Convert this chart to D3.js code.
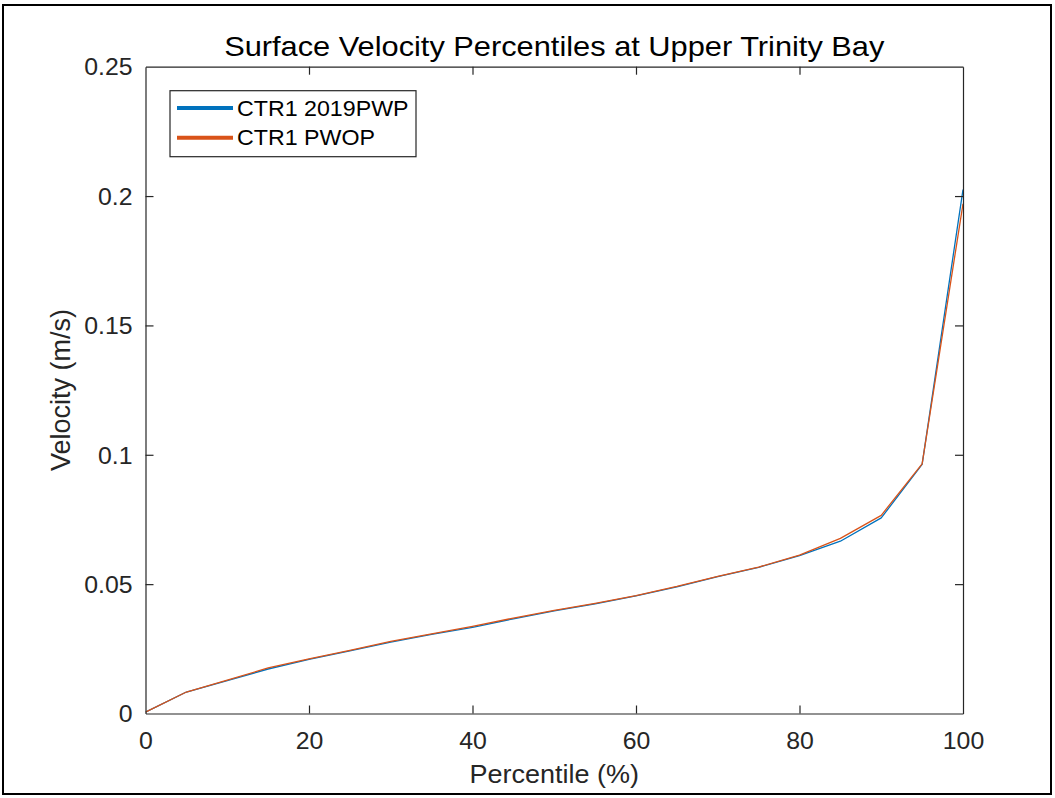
<!DOCTYPE html>
<html>
<head>
<meta charset="utf-8">
<script src="https://cdn.jsdelivr.net/npm/d3@7"></script>
<style>
  html, body { margin: 0; padding: 0; background: #fff; }
  svg { display: block; }
  text { font-family: "Liberation Sans", Arial, Helvetica, sans-serif; fill: #262626; }
</style>
</head>
<body>
<svg id="chart" width="1055" height="798"></svg>
<script>
// ---- data ----
const percentiles = [0, 5, 10, 15, 20, 25, 30, 35, 40, 45, 50, 55, 60, 65, 70, 75, 80, 85, 90, 95, 100];
const ctr1_2019PWP = [0.0005, 0.0083, 0.0127, 0.0172, 0.0209, 0.0242, 0.0276, 0.0306, 0.0333, 0.0366, 0.0397, 0.0424, 0.0455, 0.0489, 0.0529, 0.0565, 0.0610, 0.0666, 0.0756, 0.0963, 0.2025];
const ctr1_PWOP    = [0.0005, 0.0083, 0.0129, 0.0176, 0.0211, 0.0244, 0.0279, 0.0308, 0.0337, 0.0369, 0.0399, 0.0426, 0.0456, 0.0491, 0.0530, 0.0566, 0.0612, 0.0677, 0.0766, 0.0965, 0.1970];
const seriesNames = ["CTR1 2019PWP", "CTR1 PWOP"];
const seriesColors = ["#0072BD", "#D95319"];
const xTicks = [0, 20, 40, 60, 80, 100];
const yTicks = [0, 0.05, 0.1, 0.15, 0.2, 0.25];
const yTickLabels = ["0", "0.05", "0.1", "0.15", "0.2", "0.25"];
const titleText = "Surface Velocity Percentiles at Upper Trinity Bay";
const xLabelText = "Percentile (%)";
const yLabelText = "Velocity (m/s)";

(function draw() {
  const svg = d3.select("#chart");
  const pl = 145.5, pr = 963, pt = 66.7, pb = 713.5;
  const axisColor = "#262626";
  const tickLen = 8;
  const sx = 1.08; // the reference text is slightly wide

  svg.append("rect").attr("x", 3).attr("y", 5).attr("width", 1048).attr("height", 789)
    .attr("fill", "none").attr("stroke", "#000").attr("stroke-width", 2);

  const x = d3.scaleLinear().domain([0, 100]).range([pl, pr]);
  const y = d3.scaleLinear().domain([0, 0.25]).range([pb, pt]);

  svg.append("clipPath").attr("id", "clip").append("rect")
    .attr("x", pl).attr("y", pt).attr("width", pr - pl).attr("height", pb - pt);

  const line = d3.line().x(d => x(d[0])).y(d => y(d[1]));
  const allSeries = [ctr1_2019PWP, ctr1_PWOP];
  const g = svg.append("g").attr("clip-path", "url(#clip)");
  allSeries.forEach((vals, i) => {
    g.append("path")
      .datum(percentiles.map((p, j) => [p, vals[j]]))
      .attr("d", line)
      .attr("fill", "none")
      .attr("stroke", seriesColors[i])
      .attr("stroke-width", 1.3)
      .attr("stroke-linejoin", "round");
  });

  const bottomAxis = d3.axisBottom(x).tickValues(xTicks).tickSizeInner(-tickLen).tickSizeOuter(0).tickPadding(19);
  const topAxis = d3.axisTop(x).tickValues(xTicks).tickSizeInner(-tickLen).tickSizeOuter(0).tickFormat("");
  const leftAxis = d3.axisLeft(y).tickValues(yTicks).tickSizeInner(-tickLen).tickSizeOuter(0)
    .tickFormat((d, i) => yTickLabels[i]).tickPadding(12);
  const rightAxis = d3.axisRight(y).tickValues(yTicks).tickSizeInner(-tickLen).tickSizeOuter(0).tickFormat("");

  function styleAxis(sel) {
    sel.selectAll("path.domain").attr("stroke", axisColor).attr("stroke-width", 1.2);
    sel.selectAll(".tick line").attr("stroke", axisColor).attr("stroke-width", 1.2);
    sel.selectAll(".tick text").attr("fill", axisColor)
      .style("font-family", '"Liberation Sans", Arial, Helvetica, sans-serif').style("font-size", "23px")
      .attr("transform", `scale(${sx},1)`);
  }

  const gb = svg.append("g").attr("transform", `translate(0,${pb})`).call(bottomAxis).call(styleAxis);
  gb.selectAll(".tick text").attr("dy", "0.71em");
  gb.selectAll(".tick line").filter(d => d === 0 || d === 100).remove();
  const gt = svg.append("g").attr("transform", `translate(0,${pt})`).call(topAxis).call(styleAxis);
  gt.selectAll(".tick line").filter(d => d === 0 || d === 100).remove();
  const gl = svg.append("g").attr("transform", `translate(${pl},0)`).call(leftAxis).call(styleAxis);
  gl.selectAll(".tick line").filter(d => d === 0 || d === 0.25).remove();
  gl.selectAll(".tick text").attr("dy", "0.36em");
  const gr = svg.append("g").attr("transform", `translate(${pr},0)`).call(rightAxis).call(styleAxis);
  gr.selectAll(".tick line").filter(d => d === 0 || d === 0.25).remove();

  svg.append("text").attr("transform", `translate(${(pl + pr) / 2},56) scale(${sx},1)`).attr("text-anchor", "middle")
    .style("font-size", "28.5px").style("fill", "#000").text(titleText);
  svg.append("text").attr("transform", `translate(${(pl + pr) / 2},783) scale(${sx},1)`).attr("text-anchor", "middle")
    .style("font-size", "25px").text(xLabelText);
  svg.append("text").attr("transform", `translate(70,${(pt + pb) / 2}) rotate(-90)`)
    .attr("text-anchor", "middle").style("font-size", "27px").text(yLabelText);

  const lg = svg.append("g");
  lg.append("rect").attr("x", 170).attr("y", 90.7).attr("width", 246).attr("height", 66)
    .attr("fill", "#fff").attr("stroke", axisColor).attr("stroke-width", 1.2);
  const legendY = [108, 137.7];
  seriesNames.forEach((name, i) => {
    lg.append("line").attr("x1", 177).attr("x2", 233).attr("y1", legendY[i]).attr("y2", legendY[i])
      .attr("stroke", seriesColors[i]).attr("stroke-width", 4);
    lg.append("text").attr("transform", `translate(237,${legendY[i]}) scale(${sx},1)`).attr("dy", "0.36em")
      .style("font-size", "21.5px").style("fill", "#000").text(name);
  });
})();
</script>
</body>
</html>
